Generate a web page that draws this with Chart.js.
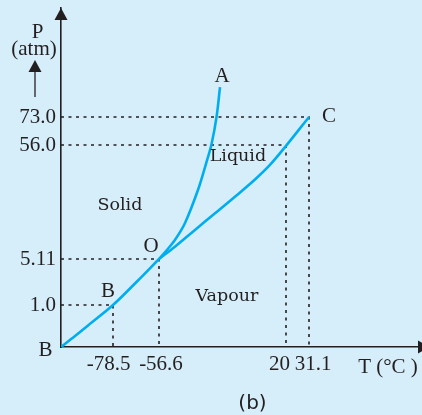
<!DOCTYPE html>
<html><head><meta charset="utf-8">
<script src="https://cdn.jsdelivr.net/npm/chart.js@4.4.0/dist/chart.umd.min.js"></script>
<style>html,body{margin:0;padding:0;background:#D6EEFA;}canvas{display:block;}</style>
</head><body><canvas id="c" width="422" height="415"></canvas>
<script>
const tempTicks = [-78.5, -56.6, 20, 31.1];
const tempTickLabels = ['-78.5', '-56.6', '20', '31.1'];
const presTicks = [1.0, 5.11, 56.0, 73.0];
const presTickLabels = ['1.0', '5.11', '56.0', '73.0'];
// sublimation curve B-O
const boT = [-100, -94.2, -88.7, -78.5, -67.2, -56.6];
const boP = [0, 0.26, 0.52, 1.0, 3.08, 5.11];
// melting curve O-A
const oaT = [-56.6, -52.1, -47.0, -40.9, -33.1, -28.3, -24.9, -21.9, -19.8];
const oaP = [5.11, 8.9, 13.6, 21.2, 35.9, 47.5, 56.6, 73.0, 91.4];
// vaporisation curve O-C
const ocT = [-56.6, -47.0, -34.9, -22.8, -10.8, 1.3, 10.3, 20.0, 31.1];
const ocP = [5.11, 10.6, 18.1, 25.5, 32.9, 40.6, 47.1, 55.6, 73.0];
// dotted guide points
const guideT = [-78.5, -56.6, 20, 31.1];
const guideP = [1.0, 5.11, 56.0, 73.0];
// named points
const pointNames = ['B', 'B', 'O', 'A', 'C'];
const pointT = [-100, -78.5, -56.6, -19.8, 31.1];
const pointP = [0, 1.0, 5.11, 91.4, 73.0];
// region labels
const regionNames = ['Solid', 'Liquid', 'Vapour'];
const regionT = [-75.2, -9.0, -15.6];
const regionP = [28.8, 51.1, 1.8];

const T_MIN = -100, T_MAX = 85, P_MIN = 0, P_MAX = 140;
const INK = '#231F20', BLUE = '#00AEEF', BG = '#D6EEFA';

// schematic (non-uniform) axis: value -> fraction of axis length
const KNOTS = {
  x: [[T_MIN, 0], [-78.5, 52/361], [-56.6, 98/361], [20, 225/361], [31.1, 248/361], [T_MAX, 1]],
  y: [[P_MIN, 0], [1.0, 42/339], [5.11, 88/339], [56.0, 202/339], [73.0, 230/339], [P_MAX, 1]]
};
// horizontal nudge of tick labels (px), as typeset in the original
const LABEL_NUDGE = {x: [-4.3, 2, -6.5, 4], y: [0, 0, 0, 0]};

function mapK(v, k, a, b) {
  if (v <= k[0][a]) { const s = (k[1][b]-k[0][b])/(k[1][a]-k[0][a]); return k[0][b] + (v-k[0][a])*s; }
  for (let i = 1; i < k.length; i++) {
    if (v <= k[i][a] || i === k.length-1) {
      const s = (k[i][b]-k[i-1][b])/(k[i][a]-k[i-1][a]);
      return k[i-1][b] + (v-k[i-1][a])*s;
    }
  }
}
class BreakScale extends Chart.LinearScale {
  getPixelForValue(v) {
    if (v === null || v === undefined) return NaN;
    return this.getPixelForDecimal(mapK(v, KNOTS[this.axis], 0, 1));
  }
  getValueForPixel(p) {
    return mapK(this.getDecimalForPixel(p), KNOTS[this.axis], 1, 0);
  }
  getPixelForTick(i) {
    const t = this.ticks[i];
    return this.getPixelForValue(t.value) + (LABEL_NUDGE[this.axis][i] || 0);
  }
}
BreakScale.id = 'breaks';
BreakScale.defaults = Chart.LinearScale.defaults;
Chart.register(BreakScale);

const pts = (xs, ys) => xs.map((x, i) => ({x, y: ys[i]}));
const curve = (xs, ys) => ({data: pts(xs, ys), borderColor: BLUE, borderWidth: 2.6,
  tension: 0.35, pointRadius: 0, fill: false});

const datasets = [curve(boT, boP), curve(oaT, oaP), curve(ocT, ocP)];
guideT.forEach((t, i) => {
  datasets.push({data: [{x: T_MIN, y: guideP[i]}, {x: t, y: guideP[i]}, {x: t, y: P_MIN}],
    borderColor: INK, borderWidth: 1.6, borderDash: [3, 4.5], tension: 0, pointRadius: 0, fill: false});
});

const SERIF = '"Liberation Serif", "Times New Roman", serif';
const LABEL_OFF = [[-15.5, 3], [-5, -14], [-8, -13], [2, -11], [20, -1]];

const decor = {
  id: 'decor',
  beforeDraw(c) {
    const ctx = c.ctx; ctx.save(); ctx.fillStyle = BG; ctx.fillRect(0, 0, c.width, c.height); ctx.restore();
  },
  afterDraw(c) {
    const {ctx, chartArea: a, scales: {x, y}} = c;
    ctx.save();
    ctx.fillStyle = INK; ctx.strokeStyle = INK;
    // axis arrowheads
    ctx.beginPath(); ctx.moveTo(a.left, a.top); ctx.lineTo(a.left - 6.5, a.top + 12); ctx.lineTo(a.left + 6.5, a.top + 12); ctx.closePath(); ctx.fill();
    ctx.beginPath(); ctx.moveTo(a.right + 8, a.bottom); ctx.lineTo(a.right - 4, a.bottom - 6.5); ctx.lineTo(a.right - 4, a.bottom + 6.5); ctx.closePath(); ctx.fill();
    // P (atm) title with arrow
    ctx.textAlign = 'center'; ctx.textBaseline = 'middle';
    ctx.font = '21px ' + SERIF;
    ctx.fillText('P', 37.5, 32);
    ctx.fillText('(atm)', 34, 49);
    ctx.lineWidth = 1.3;
    ctx.beginPath(); ctx.moveTo(35, 97); ctx.lineTo(35, 70); ctx.stroke();
    ctx.beginPath(); ctx.moveTo(35, 60); ctx.lineTo(28.5, 72); ctx.lineTo(41.5, 72); ctx.closePath(); ctx.fill();
    // T title
    ctx.fillText('T (\u00B0C )', 388, a.bottom + 20);
    // point names
    pointNames.forEach((n, i) => {
      ctx.fillText(n, x.getPixelForValue(pointT[i]) + LABEL_OFF[i][0], y.getPixelForValue(pointP[i]) + LABEL_OFF[i][1]);
    });
    // region names
    ctx.font = '17.5px "DejaVu Serif", serif';
    regionNames.forEach((n, i) => ctx.fillText(n, x.getPixelForValue(regionT[i]), y.getPixelForValue(regionP[i])));
    // caption
    ctx.font = '20px "DejaVu Sans", sans-serif';
    ctx.fillText('(b)', 252.5, 404);
    ctx.restore();
  }
};

new Chart(document.getElementById('c'), {
  type: 'line',
  data: {datasets},
  options: {
    responsive: false, animation: false, devicePixelRatio: 1,
    layout: {padding: {top: 8, right: 0, left: 0, bottom: 0}},
    plugins: {legend: {display: false}, tooltip: {enabled: false}},
    scales: {
      x: {
        type: 'breaks', min: T_MIN, max: T_MAX,
        grid: {display: false, drawTicks: false},
        border: {display: true, color: INK, width: 1.6},
        ticks: {autoSkip: false, maxRotation: 0, padding: 5, color: INK, font: {family: SERIF, size: 21},
          callback: (v) => tempTickLabels[tempTicks.indexOf(v)]},
        afterBuildTicks: (s) => { s.ticks = tempTicks.map(v => ({value: v})); },
        afterFit: (s) => { s.height = 68; s.paddingLeft = 0; s.paddingRight = 0; }
      },
      y: {
        type: 'breaks', min: P_MIN, max: P_MAX,
        grid: {display: false, drawTicks: false},
        border: {display: true, color: INK, width: 1.6},
        ticks: {autoSkip: false, padding: 5, color: INK, font: {family: SERIF, size: 21},
          callback: (v) => presTickLabels[presTicks.indexOf(v)]},
        afterBuildTicks: (s) => { s.ticks = presTicks.map(v => ({value: v})); },
        afterFit: (s) => { s.width = 61; s.paddingTop = 0; s.paddingBottom = 0; }
      }
    }
  },
  plugins: [decor]
});
</script>
</body></html>
